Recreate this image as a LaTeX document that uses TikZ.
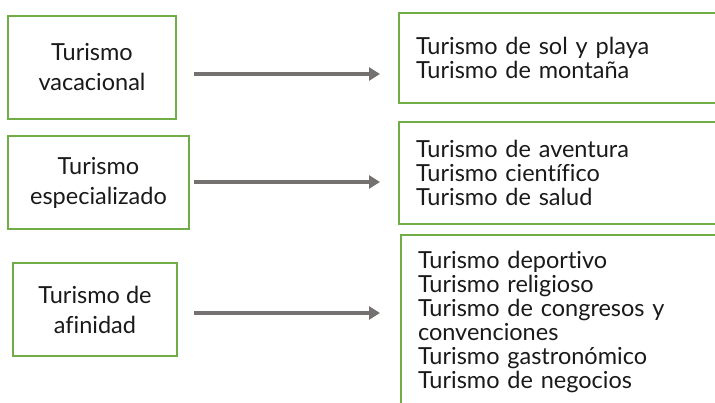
\documentclass[tikz,border=0pt]{standalone}
\usepackage{fontspec}
\setmainfont{Lato}[Ligatures=NoCommon]
\usepackage{tikz}
\usetikzlibrary{shapes, arrows.meta, positioning}
\definecolor{boxgreen}{RGB}{112,173,71}
\definecolor{arrowgray}{RGB}{118,113,113}
\definecolor{ink}{RGB}{26,26,26}
\tikzstyle{kind} = [draw=boxgreen, line width=2pt, fill=white, rectangle,
    align=center, text=ink, inner sep=0pt, font=\fontsize{23.5}{30}\selectfont]
\tikzstyle{list} = [draw=boxgreen, line width=2pt, fill=white, rectangle,
    align=left, text=ink, text width=290pt, inner xsep=17pt, inner ysep=0pt,
    font=\fontsize{23.5}{24}\selectfont]
\tikzstyle{link} = [draw=arrowgray, line width=4pt, -{Triangle[length=11pt,width=13pt]}]

\begin{document}
\begin{tikzpicture}[x=1pt, y=-1pt]
    \useasboundingbox (0,0) rectangle (715,403);
    % left column
    \node [kind, minimum width=168pt, minimum height=103pt] (vac) at (92,67.5) {Turismo\\vacacional};
    \node [kind, minimum width=181pt, minimum height=93pt] (esp) at (98.5,182.5) {Turismo\\especializado};
    \node [kind, minimum width=164pt, minimum height=93pt] (afi) at (95,309.5) {Turismo de\\afinidad};
    % right column
    \node [list, minimum height=90pt, anchor=west] (vaclist) at (398,58) {Turismo de sol y playa\\Turismo de monta\~na};
    \node [list, minimum height=102pt, anchor=west] (esplist) at (398,173) {Turismo de aventura\\Turismo cient\'ifico\\Turismo de salud};
    \node [list, minimum height=174pt, anchor=west] (afilist) at (400,322) {Turismo deportivo\\Turismo religioso\\Turismo de congresos y\\convenciones\\Turismo gastron\'omico\\Turismo de negocios};
    \draw [link] ([xshift=17pt,yshift=-6.5pt]vac.east) -- ([xshift=-18pt,yshift=-6.5pt]vac.east -| vaclist.west);
    \draw [link] ([xshift=4pt,yshift=0.5pt]esp.east) -- ([xshift=-18pt,yshift=0.5pt]esp.east -| esplist.west);
    \draw [link] ([xshift=16pt,yshift=-3.5pt]afi.east) -- ([xshift=-20pt,yshift=-3.5pt]afi.east -| afilist.west);
\end{tikzpicture}
\end{document}
